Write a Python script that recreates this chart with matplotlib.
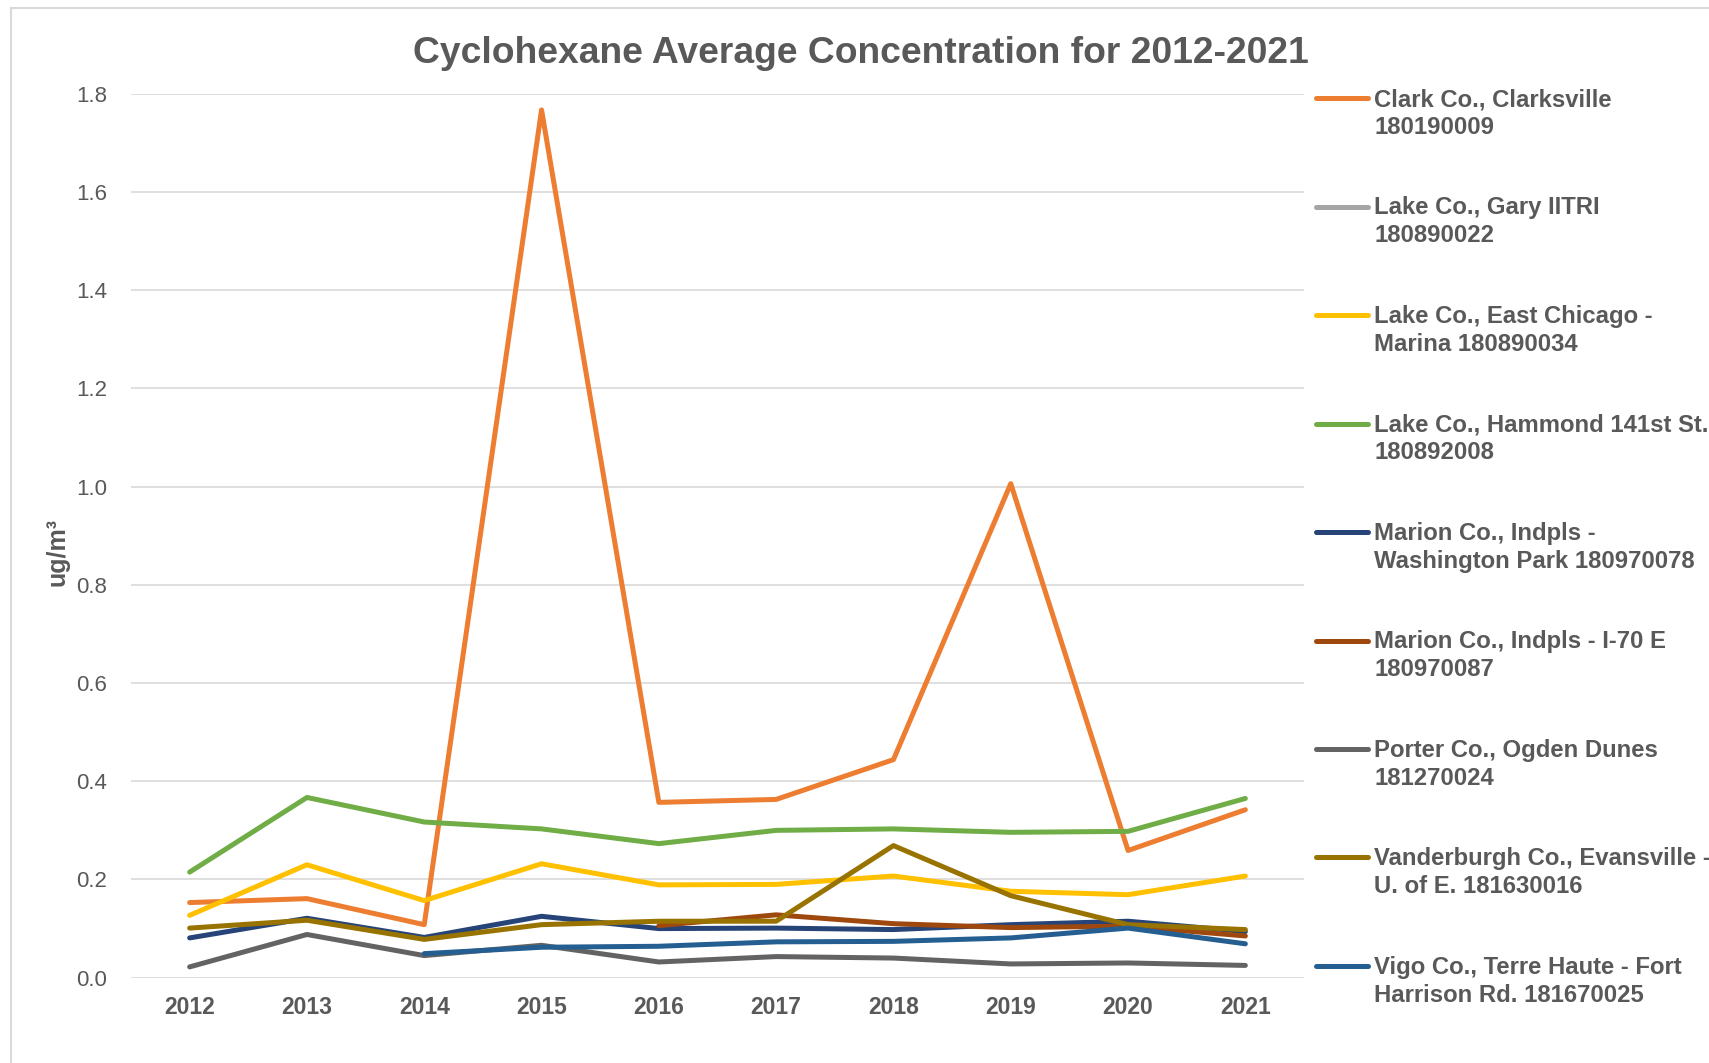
import numpy as np
import matplotlib
matplotlib.use("Agg")
import matplotlib.pyplot as plt
from matplotlib.lines import Line2D

years = ["2012", "2013", "2014", "2015", "2016", "2017", "2018", "2019", "2020", "2021"]
nan = np.nan

clark = [0.153, 0.161, 0.108, 1.767, 0.357, 0.363, 0.444, 1.006, 0.259, 0.342]
gary = [nan] * 10
east_chicago = [0.127, 0.230, 0.157, 0.232, 0.189, 0.190, 0.207, 0.176, 0.169, 0.207]
hammond = [0.215, 0.367, 0.317, 0.303, 0.273, 0.300, 0.303, 0.296, 0.298, 0.365]
washington_park = [0.081, 0.121, 0.082, 0.125, 0.100, 0.101, 0.098, 0.108, 0.115, 0.094]
i70 = [nan, nan, nan, nan, 0.106, 0.128, 0.110, 0.102, 0.105, 0.085]
ogden = [0.022, 0.088, 0.045, 0.066, 0.032, 0.043, 0.040, 0.028, 0.030, 0.025]
evansville = [0.101, 0.117, 0.078, 0.108, 0.115, 0.115, 0.269, 0.167, 0.108, 0.098]
terre_haute = [nan, nan, 0.049, 0.062, 0.064, 0.073, 0.074, 0.081, 0.101, 0.069]

labels = [
    "Clark Co., Clarksville\n180190009",
    "Lake Co., Gary IITRI\n180890022",
    "Lake Co., East Chicago -\nMarina 180890034",
    "Lake Co., Hammond 141st St.\n180892008",
    "Marion Co., Indpls -\nWashington Park 180970078",
    "Marion Co., Indpls - I-70 E\n180970087",
    "Porter Co., Ogden Dunes\n181270024",
    "Vanderburgh Co., Evansville -\nU. of E. 181630016",
    "Vigo Co., Terre Haute - Fort\nHarrison Rd. 181670025",
]
series = [clark, gary, east_chicago, hammond, washington_park, i70, ogden, evansville, terre_haute]
colors = ["#ED7D31", "#A5A5A5", "#FFC000", "#70AD47", "#264478",
          "#9E480E", "#636363", "#997300", "#255E91"]

txt = "#595959"
plt.rcParams['font.family'] = ['Liberation Sans', 'DejaVu Sans']

W, H = 1709, 1063
fig = plt.figure(figsize=(W / 100, H / 100), dpi=100)

# chart frame: top and left edges only (right side is cut off in the original)
fig.add_artist(Line2D([11 / W, 1.0], [1 - 8 / H, 1 - 8 / H], transform=fig.transFigure,
                      color="#D9D9D9", lw=1.5))
fig.add_artist(Line2D([11 / W, 11 / W], [0, 1 - 8 / H], transform=fig.transFigure,
                      color="#D9D9D9", lw=1.5))

ax = fig.add_axes([131 / W, 85.3 / H, 1173 / W, 884 / H])

x = np.arange(len(years))
for vals, c in zip(series, colors):
    ax.plot(x, vals, color=c, lw=3.6, solid_capstyle="round", solid_joinstyle="round")

ax.set_xlim(-0.5, len(years) - 0.5)
ax.set_ylim(0, 1.8)
yt = np.arange(0, 1.81, 0.2)
ax.set_yticks(yt)
ax.set_yticklabels([f"{v:.1f}" for v in yt])
ax.set_xticks(x)
ax.set_xticklabels(years, fontweight="bold")
ax.tick_params(length=0, colors=txt)
ax.tick_params(axis="x", labelsize=16.5, pad=13)
ax.tick_params(axis="y", labelsize=16, pad=17)
ax.grid(axis="y", color="#D9D9D9", lw=1.2)
ax.set_axisbelow(True)
for s in ax.spines.values():
    s.set_visible(False)
ax.set_ylabel("ug/m³", fontsize=18, fontweight="bold", color=txt, va="center")
ax.yaxis.set_label_coords(-0.0623, 0.4816)

fig.text(861 / W, 1 - 63 / H, "Cyclohexane Average Concentration for 2012-2021",
         ha="center", va="baseline", fontsize=26.8, fontweight="bold", color=txt)

# legend, drawn by hand so the handle sits on the first text line
for i, (lab, c) in enumerate(zip(labels, colors)):
    yy = 98.3 + i * 108.45
    fig.add_artist(Line2D([1316 / W, 1368 / W], [1 - yy / H, 1 - yy / H],
                          transform=fig.transFigure, color=c, lw=3.6,
                          solid_capstyle="round"))
    for j, part in enumerate(lab.split("\n")):
        fig.text(1374 / W, 1 - (yy + 7.7 + j * 28) / H, part, ha="left", va="baseline",
                 fontsize=17.2, fontweight="bold", color=txt)

fig.savefig("out.png", dpi=100)
